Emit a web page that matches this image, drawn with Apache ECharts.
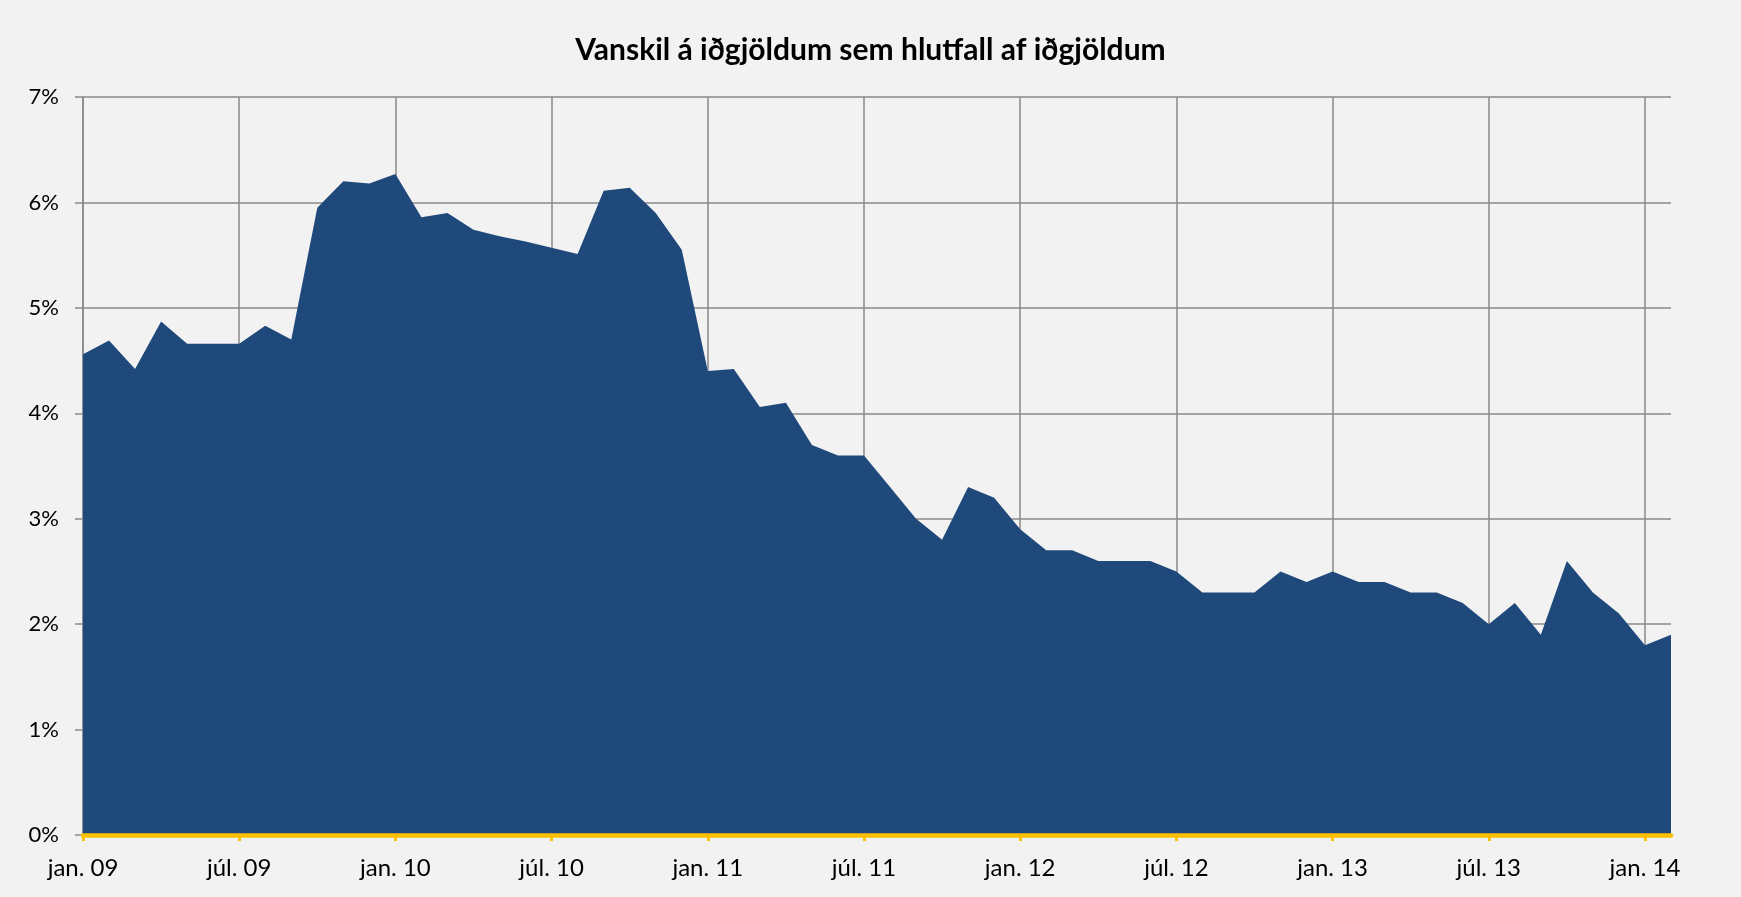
<!DOCTYPE html>
<html>
<head>
<meta charset="utf-8">
<script src="https://cdn.jsdelivr.net/npm/echarts@6/dist/echarts.min.js"></script>
<style>
html,body{margin:0;padding:0;background:#F2F2F2;}
#c{width:1741px;height:897px;}
</style>
</head>
<body>
<div id="c"></div>
<script>
const title = 'Vanskil á iðgjöldum sem hlutfall af iðgjöldum';
const months = ['jan.', 'feb.', 'mar.', 'apr.', 'maí.', 'jún.', 'júl.', 'ágú.', 'sep.', 'okt.', 'nóv.', 'des.'];
const years = ['09', '10', '11', '12', '13', '14'];
const categories = [];
years.forEach(y => months.forEach(m => categories.push(m + ' ' + y)));
categories.length = 62; // jan. 09 .. feb. 14
const values = [
  4.56, 4.69, 4.42, 4.87, 4.66, 4.66, 4.66, 4.83, 4.70, 5.95, 6.20, 6.18,
  6.27, 5.86, 5.90, 5.74, 5.68, 5.63, 5.57, 5.51, 6.11, 6.14, 5.90, 5.55,
  4.40, 4.42, 4.06, 4.10, 3.70, 3.60, 3.60, 3.30, 3.00, 2.80, 3.30, 3.20,
  2.90, 2.70, 2.70, 2.60, 2.60, 2.60, 2.50, 2.30, 2.30, 2.30, 2.50, 2.40,
  2.50, 2.40, 2.40, 2.30, 2.30, 2.20, 2.00, 2.20, 1.90, 2.60, 2.30, 2.10,
  1.80, 1.90
];
const yTicks = [0, 1, 2, 3, 4, 5, 6, 7];

const chart = echarts.init(document.getElementById('c'), null, {renderer: 'canvas'});
const font = 'Lato, "Open Sans", sans-serif';
chart.setOption({
  backgroundColor: '#F2F2F2',
  animation: false,
  title: {
    text: title, left: 'center', top: 30,
    textStyle: {fontFamily: font, fontSize: 30, fontWeight: 'bold', color: '#000'}
  },
  grid: {left: 83, right: 70, top: 97, bottom: 62, containLabel: false},
  xAxis: [{
    type: 'category', data: categories, boundaryGap: false, position: 'bottom',
    axisLine: {show: false}, axisTick: {show: false}, axisLabel: {show: false},
    splitLine: {show: true, interval: 5, lineStyle: {color: '#898989', width: 1.5}}
  }, {
    type: 'category', data: categories, boundaryGap: false, position: 'bottom', z: 5,
    axisLine: {show: true, onZero: false, lineStyle: {color: '#FFC000', width: 4.5}},
    axisTick: {show: true, interval: 5, length: 6, inside: false, lineStyle: {color: '#FFC000', width: 3}},
    axisLabel: {interval: 5, margin: 21, fontFamily: font, fontSize: 24, color: '#000'},
    splitLine: {show: false}
  }],
  yAxis: {
    type: 'value', min: yTicks[0], max: yTicks[yTicks.length - 1], interval: 1,
    axisLine: {show: true, lineStyle: {color: '#898989', width: 1.5}},
    axisTick: {show: true, length: 8, lineStyle: {color: '#898989', width: 1.5}},
    axisLabel: {formatter: '{value}%', margin: 24, fontFamily: font, fontSize: 22, color: '#000'},
    splitLine: {show: true, lineStyle: {color: '#898989', width: 1.5}}
  },
  series: [{
    type: 'line', data: values, symbol: 'none', z: 2, xAxisIndex: 0,
    lineStyle: {width: 0, color: '#1F497D'},
    areaStyle: {color: '#20497B', opacity: 1}
  }]
});
</script>
</body>
</html>
